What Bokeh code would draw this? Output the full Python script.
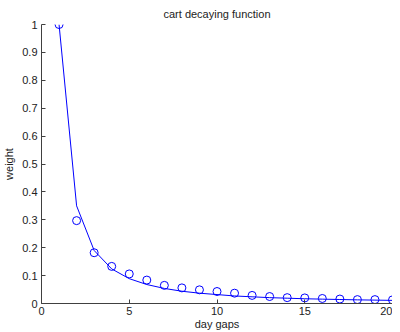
from bokeh.plotting import figure
from bokeh.embed import file_html
from bokeh.resources import INLINE
from bokeh.models import FixedTicker, CustomJSTickFormatter, Range1d

days = [1, 2, 3, 4, 5, 6, 7, 8, 9, 10, 11, 12, 13, 14, 15, 16, 17, 18, 19, 20]
observed = [1.0, 0.297, 0.182, 0.133, 0.106, 0.084, 0.065, 0.056, 0.049, 0.043,
            0.037, 0.029, 0.025, 0.021, 0.020, 0.018, 0.016, 0.014, 0.014, 0.013]
fitted = [1.0, 0.350, 0.190, 0.124, 0.089, 0.068, 0.054, 0.044, 0.037, 0.032,
          0.027, 0.024, 0.021, 0.019, 0.017, 0.0156, 0.0143, 0.0131, 0.0121, 0.0112]
x_ticks = [0, 5, 10, 15, 20]
y_ticks = [0, 0.1, 0.2, 0.3, 0.4, 0.5, 0.6, 0.7, 0.8, 0.9, 1.0]

FONT = "Liberation Sans"
BLUE = "#0000ff"

p = figure(width=392, height=332, output_backend="svg", toolbar_location=None,
           x_range=Range1d(0, 20), y_range=Range1d(0, 1),
           title="cart decaying function",
           min_border_left=34, min_border_right=0, min_border_bottom=28, min_border_top=0)

p.line(days, fitted, line_color=BLUE, line_width=1)
p.scatter(days, observed, marker="circle", size=8, fill_color=None, line_color=BLUE, line_width=1)

p.title.align = "center"
p.title.text_font = FONT
p.title.text_font_size = "11px"
p.title.text_font_style = "normal"
p.title.text_color = "#222222"
p.title.standoff = 10
p.title.offset = 0

p.grid.visible = False
p.outline_line_color = None

for ax in (p.xaxis[0], p.yaxis[0]):
    ax.axis_line_color = "#404040"
    ax.major_tick_line_color = "#404040"
    ax.major_tick_in = 4
    ax.major_tick_out = 0
    ax.minor_tick_line_color = None
    ax.major_label_text_font = FONT
    ax.major_label_text_font_size = "11px"
    ax.major_label_text_color = "#222222"
    ax.axis_label_text_font = FONT
    ax.axis_label_text_font_size = "11px"
    ax.axis_label_text_font_style = "normal"
    ax.axis_label_text_color = "#222222"

p.xaxis.ticker = FixedTicker(ticks=x_ticks)
p.yaxis.ticker = FixedTicker(ticks=y_ticks)
p.yaxis.formatter = CustomJSTickFormatter(code="return Number(tick.toFixed(1)).toString();")
p.xaxis.axis_label = "day gaps"
p.yaxis.axis_label = "weight"
p.xaxis.major_label_standoff = 3
p.yaxis.major_label_standoff = 4
p.xaxis.axis_label_standoff = 0
p.yaxis.axis_label_standoff = 4

open("out.html", "w").write(file_html(p, INLINE))
